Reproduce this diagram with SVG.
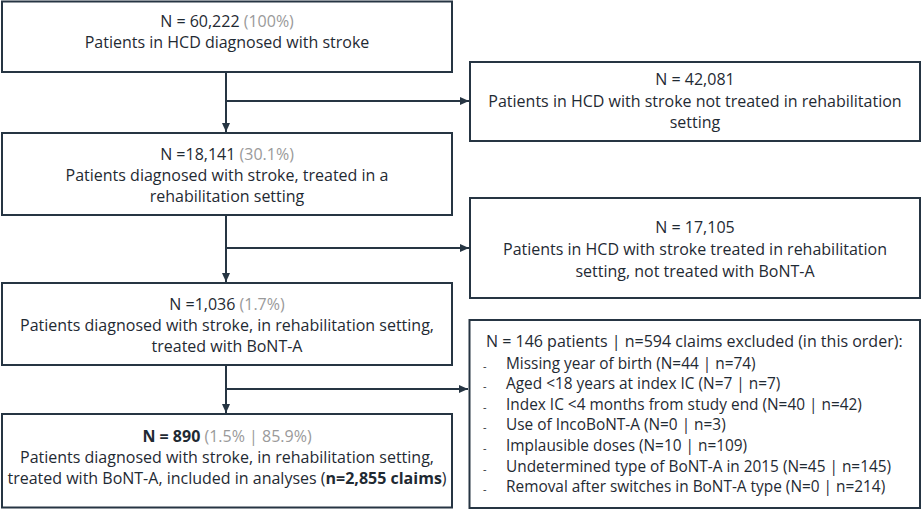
<svg xmlns="http://www.w3.org/2000/svg" width="922" height="510" viewBox="0 0 922 510">
<defs>
<style>
.box{fill:#fff;stroke:#263543;stroke-width:2}
.t{font-family:"Open Sans","Noto Sans","Liberation Sans",sans-serif;font-size:16px;fill:#1f2a33}
.i{font-size:15.4px}
.c{text-anchor:middle}
.g{fill:#9a9a9a}
.b{font-weight:bold}
.ln{fill:none;stroke:#263543;stroke-width:2}
.dash{font-family:"Open Sans","Liberation Sans",sans-serif;font-size:11px;fill:#1f2a33}
</style>
<marker id="ah" markerWidth="9" markerHeight="8" viewBox="0 0 9 8" refX="9" refY="4" orient="auto" markerUnits="userSpaceOnUse">
<path d="M0,0 L9,4 L0,8 Z" fill="#263543"/>
</marker>
</defs>
<rect width="922" height="510" fill="#fff"/>
<g id="connectors">
<path class="ln" d="M226,72 V132" marker-end="url(#ah)"/>
<path class="ln" d="M226,101 H469" marker-end="url(#ah)"/>
<path class="ln" d="M226,215 V282" marker-end="url(#ah)"/>
<path class="ln" d="M226,248 H469" marker-end="url(#ah)"/>
<path class="ln" d="M226,365 V413" marker-end="url(#ah)"/>
<path class="ln" d="M226,389 H468" marker-end="url(#ah)"/>
</g>
<g id="n1">
<rect class="box" x="2" y="1.5" width="450" height="70.5"/>
<text class="t c" x="227" y="26.7">N = 60,222 <tspan class="g">(100%)</tspan></text>
<text class="t c" x="227" y="48">Patients in HCD diagnosed with stroke</text>
</g>
<g id="n2">
<rect class="box" x="2" y="133" width="450" height="82"/>
<text class="t c" x="227" y="160">N =18,141 <tspan class="g">(30.1%)</tspan></text>
<text class="t c" x="227" y="181">Patients diagnosed with stroke, treated in a</text>
<text class="t c" x="227" y="202">rehabilitation setting</text>
</g>
<g id="n3">
<rect class="box" x="2" y="283" width="450" height="82"/>
<text class="t c" x="227" y="310">N =1,036 <tspan class="g">(1.7%)</tspan></text>
<text class="t c" x="227" y="331">Patients diagnosed with stroke, in rehabilitation setting,</text>
<text class="t c" x="227" y="352">treated with BoNT-A</text>
</g>
<g id="n4">
<rect class="box" x="2" y="414" width="450" height="93.5"/>
<text class="t c" x="227" y="442"><tspan class="b">N = 890</tspan> <tspan class="g">(1.5% | 85.9%)</tspan></text>
<text class="t c" x="227" y="463">Patients diagnosed with stroke, in rehabilitation setting,</text>
<text class="t c" x="227" y="484">treated with BoNT-A, included in analyses (<tspan class="b">n=2,855 claims</tspan>)</text>
</g>
<g id="r1">
<rect class="box" x="470" y="62" width="450" height="79"/>
<text class="t c" x="695" y="85">N = 42,081</text>
<text class="t c" x="695" y="107">Patients in HCD with stroke not treated in rehabilitation</text>
<text class="t c" x="695" y="128">setting</text>
</g>
<g id="r2">
<rect class="box" x="470" y="198" width="450" height="100"/>
<text class="t c" x="695" y="233">N = 17,105</text>
<text class="t c" x="695" y="255">Patients in HCD with stroke treated in rehabilitation</text>
<text class="t c" x="695" y="277">setting, not treated with BoNT-A</text>
</g>
<g id="r3">
<rect class="box" x="469.5" y="320" width="450.5" height="188"/>
<text class="t" x="486" y="347">N = 146 patients | n=594 claims excluded (in this order):</text>
<g class="dash">
<text x="483" y="369.5">-</text>
<text x="483" y="390.1">-</text>
<text x="483" y="410.7">-</text>
<text x="483" y="431.3">-</text>
<text x="483" y="451.9">-</text>
<text x="483" y="472.5">-</text>
<text x="483" y="493.1">-</text>
</g>
<text class="t i" x="506" y="368.5">Missing year of birth (N=44 | n=74)</text>
<text class="t i" x="506" y="389.1">Aged &lt;18 years at index IC (N=7 | n=7)</text>
<text class="t i" x="506" y="409.7">Index IC &lt;4 months from study end (N=40 | n=42)</text>
<text class="t i" x="506" y="430.3">Use of IncoBoNT-A (N=0 | n=3)</text>
<text class="t i" x="506" y="450.9">Implausible doses (N=10 | n=109)</text>
<text class="t i" x="506" y="471.5">Undetermined type of BoNT-A in 2015 (N=45 | n=145)</text>
<text class="t i" x="506" y="492.1">Removal after switches in BoNT-A type (N=0 | n=214)</text>
</g>
</svg>
